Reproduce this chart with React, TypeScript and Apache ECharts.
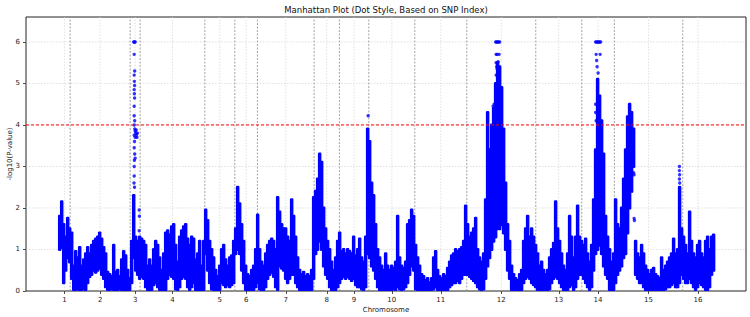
import React, { useEffect, useRef } from "react";
import * as echarts from "echarts";

// ---------- data ----------
const chromosomes = ["1", "2", "3", "4", "5", "6", "7", "8", "9", "10", "11", "12", "13", "14", "15", "16"];
// number of SNPs in each chromosome (SNP index runs continuously)
const chromSizes = [115, 600, 100, 647, 300, 226, 567, 253, 294, 460, 520, 690, 460, 326, 684, 306];
// SNPs are summarised in consecutive bins of this many SNPs: per bin the lowest and highest -log10(P)
const binWidth = 20;
const binLow = [
  1.0, 1.05, 0.2, 0.5, 0.8, 0.7, 0.3, 0.0, 0.0, 0.05, 0.0, 0.0, 0.05, 0.0, 0.2, 0.35, 0.4, 0.5, 0.45, 0.5,
  0.55, 0.4, 0.3, 0.1, 0.0, 0.0, 0.05, 0.0, 0.0, 0.0, 0.05, 0.0, 0.0, 0.0, 0.0, 0.0, 0.2, 0.8, 0.5, 0.4,
  0.3, 0.35, 0.3, 0.1, 0.0, 0.0, 0.0, 0.15, 0.2, 0.1, 0.0, 0.0, 0.0, 0.0, 0.3, 0.4, 0.35, 0.3, 0.05, 0.0,
  0.1, 0.3, 0.35, 0.3, 0.1, 0.0, 0.1, 0.2, 0.0, 0.0, 0.0, 0.0, 0.0, 0.9, 0.5, 0.2, 0.05, 0.0, 0.0, 0.0,
  0.0, 0.2, 0.15, 0.1, 0.15, 0.1, 0.15, 0.2, 0.9, 1.0, 0.9, 0.5, 0.2, 0.0, 0.0, 0.0, 0.0, 0.0, 0.1, 0.2,
  0.05, 0.0, 0.0, 0.1, 0.3, 0.4, 0.45, 0.35, 0.1, 0.0, 0.6, 0.55, 0.5, 0.3, 0.2, 0.3, 0.4, 0.4, 0.2, 0.1,
  0.0, 0.0, 0.0, 0.0, 0.0, 0.0, 0.0, 0.3, 0.9, 1.0, 1.2, 1.0, 0.6, 0.4, 0.3, 0.1, 0.0, 0.0, 0.0, 0.1,
  0.2, 0.3, 0.35, 0.3, 0.35, 0.3, 0.25, 0.3, 0.15, 0.1, 0.1, 0.05, 0.0, 0.1, 0.9, 0.8, 0.6, 0.5, 0.3, 0.1,
  0.0, 0.0, 0.0, 0.0, 0.0, 0.0, 0.0, 0.05, 0.0, 0.1, 0.05, 0.0, 0.05, 0.1, 0.2, 0.4, 0.6, 0.5, 0.05, 0.0,
  0.0, 0.0, 0.0, 0.0, 0.0, 0.0, 0.0, 0.05, 0.1, 0.0, 0.0, 0.0, 0.0, 0.0, 0.0, 0.1, 0.15, 0.2, 0.2, 0.25,
  0.2, 0.3, 0.4, 0.4, 0.4, 0.35, 0.3, 0.25, 0.2, 0.1, 0.05, 0.0, 0.05, 0.3, 0.6, 0.8, 1.0, 1.2, 1.3, 1.5,
  1.5, 1.6, 1.4, 1.0, 0.5, 0.3, 0.0, 0.0, 0.0, 0.0, 0.0, 0.0, 0.2, 0.3, 0.35, 0.3, 0.2, 0.15, 0.1, 0.0,
  0.0, 0.0, 0.0, 0.0, 0.0, 0.05, 0.2, 0.3, 0.35, 0.3, 0.2, 0.1, 0.0, 0.0, 0.0, 0.1, 0.15, 0.0, 0.1, 0.3,
  0.4, 0.4, 0.3, 0.2, 0.1, 0.0, 0.1, 0.5, 0.9, 1.0, 1.1, 0.9, 0.6, 0.4, 0.3, 0.0, 0.0, 0.0, 0.2, 0.4,
  0.5, 0.6, 0.8, 0.9, 1.4, 2.0, 2.4, 3.0, 0.4, 0.3, 0.2, 0.2, 0.1, 0.0, 0.0, 0.0, 0.0, 0.0, 0.0, 0.0,
  0.0, 0.0, 0.0, 0.05, 0.1, 0.1, 0.15, 0.2, 0.1, 0.1, 0.2, 0.4, 0.3, 0.2, 0.2, 0.3, 0.2, 0.1, 0.0, 0.1,
  0.2, 0.15, 0.1, 0.0, 0.0, 0.1, 0.4, 0.5,
];
const binHigh = [
  1.8, 2.15, 1.6, 1.3, 1.75, 1.5, 1.4, 0.6, 0.95, 0.8, 1.05, 0.6, 0.75, 0.9, 1.05, 0.9, 1.1, 1.2, 1.25, 1.3,
  1.4, 1.25, 1.05, 0.9, 0.45, 0.4, 0.35, 1.1, 0.45, 0.5, 0.35, 0.75, 0.95, 0.85, 0.5, 0.3, 1.2, 2.3, 1.3, 1.2,
  1.3, 1.25, 1.2, 1.1, 0.6, 0.75, 0.6, 1.0, 1.2, 1.1, 0.8, 0.5, 0.9, 1.4, 1.45, 1.35, 1.55, 1.6, 1.1, 0.7,
  1.3, 1.45, 1.55, 1.6, 1.25, 1.1, 1.3, 1.25, 0.75, 0.9, 1.2, 0.6, 1.2, 1.95, 1.7, 1.2, 1.0, 0.8, 0.5, 0.35,
  0.6, 1.0, 1.1, 0.75, 0.6, 0.8, 0.85, 1.2, 1.5, 2.5, 2.1, 1.6, 1.2, 0.6, 0.4, 0.35, 0.5, 0.6, 1.0, 1.83,
  1.0, 0.7, 0.6, 0.9, 1.1, 1.2, 1.25, 1.2, 1.0, 2.25, 1.9, 1.6, 1.5, 1.5, 1.3, 1.2, 2.2, 1.8, 1.3, 0.8,
  0.5, 0.4, 0.45, 0.35, 0.4, 0.35, 0.5, 2.25, 2.4, 2.7, 3.3, 3.1, 2.0, 1.5, 1.2, 1.0, 0.7, 0.5, 0.8, 1.2,
  1.4, 0.95, 1.0, 0.9, 1.0, 0.95, 0.9, 1.3, 0.85, 1.0, 1.25, 0.8, 0.7, 1.3, 3.9, 3.6, 2.6, 2.3, 1.6, 1.0,
  0.8, 0.6, 0.5, 0.9, 0.6, 0.5, 0.6, 0.55, 0.7, 1.8, 0.8, 0.6, 0.55, 0.7, 1.6, 1.7, 1.95, 1.8, 1.1, 0.8,
  0.6, 0.4, 0.35, 0.25, 0.3, 0.2, 0.3, 0.8, 0.95, 0.5, 0.35, 0.3, 0.4, 0.35, 0.55, 0.7, 0.85, 0.9, 1.0, 0.95,
  1.0, 1.05, 1.2, 2.05, 1.6, 1.3, 1.4, 1.5, 1.75, 1.0, 0.8, 0.7, 0.9, 2.2, 4.3, 3.4, 4.0, 4.4, 5.0, 5.5,
  5.4, 4.9, 3.9, 2.6, 1.6, 1.2, 0.6, 0.4, 0.3, 0.25, 0.4, 0.5, 1.2, 1.5, 1.8, 1.3, 1.5, 1.3, 1.1, 0.9,
  0.6, 0.7, 0.5, 0.4, 0.5, 0.8, 1.0, 1.15, 2.15, 1.5, 1.2, 0.9, 0.6, 0.5, 0.9, 1.8, 1.3, 0.8, 1.3, 2.05,
  1.3, 1.2, 1.1, 1.25, 0.9, 0.7, 1.1, 2.2, 3.4, 5.1, 4.7, 4.1, 3.3, 1.8, 1.3, 1.0, 0.7, 0.9, 2.2, 1.6,
  1.5, 2.0, 2.7, 3.4, 4.2, 4.5, 4.3, 3.9, 1.2, 0.9, 0.8, 1.1, 0.9, 0.6, 0.5, 0.4, 0.5, 0.55, 0.4, 0.35,
  0.3, 0.8, 0.5, 0.6, 0.7, 0.8, 0.9, 1.25, 0.9, 1.0, 2.5, 1.5, 1.3, 1.1, 0.9, 1.9, 1.2, 0.9, 0.8, 1.1,
  1.2, 0.9, 0.8, 1.2, 1.3, 1.0, 1.3, 1.35,
];
// isolated SNPs standing above the bins (SNP index, -log10 P)
const peakSnpIndex = [
  750, 758, 765, 755, 760, 755, 757, 759, 755, 757, 759, 755, 755, 760, 755, 761, 765, 771, 777, 783,
  787, 755, 765, 775, 758, 755, 760, 757, 765, 755, 755, 753, 758, 805, 807, 805,
  3095,
  4370, 4380, 4390, 4400, 4410, 4375, 4385, 4405, 4375, 4395, 4380, 4385, 4375, 4390, 4405, 4355, 4345,
  5370, 5380, 5390, 5400, 5410, 5420, 5375, 5415, 5380, 5385, 5395, 5370, 5370, 5370, 5370, 5375,
  5750, 5755, 5755, 5758,
  6208, 6208, 6210, 6208, 6211,
];
const peakValue = [
  6.0, 6.0, 6.0, 5.7, 5.3, 5.2, 5.05, 4.95, 4.85, 4.75, 4.65, 4.45, 4.22, 4.1, 4.0, 3.9, 3.85, 3.8, 3.75, 3.7,
  3.8, 3.75, 3.7, 3.88, 3.6, 3.45, 3.3, 3.15, 3.2, 3.0, 2.77, 2.6, 2.5, 1.95, 1.8, 1.45,
  4.22,
  6.0, 6.0, 6.0, 6.0, 6.0, 5.7, 5.7, 5.7, 5.5, 5.52, 5.4, 5.35, 5.2, 5.15, 5.1, 4.5, 4.45,
  6.0, 6.0, 6.0, 6.0, 6.0, 6.0, 5.7, 5.7, 5.55, 5.4, 5.25, 4.5, 4.3, 3.2, 3.0, 4.1,
  2.85, 2.8, 1.75, 1.7,
  3.0, 2.9, 2.8, 2.7, 2.6,
];
const threshold = 4;
const yTicks = [0, 1, 2, 3, 4, 5, 6];
const yMax = 6.6;
const titleText = "Manhattan Plot (Dot Style, Based on SNP Index)";
const xName = "Chromosome";
const yName = "-log10(P-value)";

// ---------- derived ----------
const chromStarts: number[] = [];
chromSizes.reduce((acc, s) => {
  chromStarts.push(acc);
  return acc + s;
}, 0);
const totalSnps = chromSizes.reduce((a, b) => a + b, 0);
const chromCenters = chromSizes.map((s, i) => chromStarts[i] + (s - 1) / 2);
const chromBoundaries = chromStarts.slice(1).map((s) => s - 0.5);
const xPad = (totalSnps - 1) * 0.05;
const xMin = Math.round(-xPad);
const xMax = Math.round(totalSnps - 1 + xPad);

const FONT = "DejaVu Sans";
const BLUE = "#0000ff";

function ruleLine(points: number[][], z: number, color: string, width: number, dash: number[]) {
  return {
    type: "line",
    z,
    silent: true,
    symbol: "none",
    showSymbol: false,
    color,
    data: points,
    lineStyle: { color, width, type: dash, opacity: 1 },
  };
}

export default function App() {
  const ref = useRef<HTMLDivElement>(null);
  useEffect(() => {
    if (!ref.current) return;
    document.body.style.margin = "0";
    const chart = echarts.init(ref.current, null, { renderer: "svg" });
    const binData = binHigh.map((hi, k) => [k * binWidth + binWidth / 2, binLow[k], hi]);
    const peakData = peakSnpIndex.map((x, i) => [x, peakValue[i]]);
    const gridV = chromCenters.map((c) => ruleLine([[c, 0], [c, yMax]], 0, "#d4d4d4", 0.7, [1.5, 1.5]));
    const gridH = yTicks.slice(1).map((v) => ruleLine([[xMin, v], [xMax, v]], 0, "#d4d4d4", 0.7, [1.5, 1.5]));
    const bounds = chromBoundaries.map((b) => ruleLine([[b, 0], [b, yMax]], 1, "#8c8c8c", 0.8, [2, 1.5]));
    chart.setOption({
      animation: false,
      backgroundColor: "#ffffff",
      grid: {
        left: 26,
        right: 4,
        top: 17,
        bottom: 26,
        show: true,
        borderColor: "#222",
        borderWidth: 1,
        backgroundColor: "transparent",
      },
      xAxis: {
        type: "value",
        min: xMin,
        max: xMax,
        axisLine: { show: false, onZero: false },
        splitLine: { show: false },
        axisTick: { show: true, customValues: chromCenters, length: 3, lineStyle: { color: "#222", width: 0.8 } },
        axisLabel: {
          customValues: chromCenters,
          margin: 5,
          color: "#222",
          fontSize: 7,
          fontFamily: FONT,
          formatter: (v: number) => {
            const i = chromCenters.findIndex((c) => Math.abs(c - v) < 0.01);
            return i >= 0 ? chromosomes[i] : "";
          },
        },
      },
      yAxis: {
        type: "value",
        min: 0,
        max: yMax,
        interval: 1,
        axisLine: { show: false, onZero: false },
        splitLine: { show: false },
        axisTick: { show: true, customValues: yTicks, length: 3, lineStyle: { color: "#222", width: 0.8 } },
        axisLabel: { customValues: yTicks, margin: 6, color: "#222", fontSize: 7, fontFamily: FONT },
      },
      series: [
        ...gridV,
        ...gridH,
        ...bounds,
        {
          type: "custom",
          z: 2,
          silent: true,
          data: binData,
          encode: { x: 0, y: [1, 2] },
          renderItem: (params: any, api: any) => {
            const x = api.value(0);
            const lo = api.value(1);
            const hi = api.value(2);
            const p0 = api.coord([x - binWidth / 2, hi]);
            const p1 = api.coord([x + binWidth / 2, lo]);
            const base = api.coord([x, 0])[1];
            const r = 1.5;
            const top = p0[1] - r;
            const bottom = Math.min(p1[1] + r, base);
            return {
              type: "rect",
              shape: { x: p0[0] - r * 0.5, y: top, width: p1[0] - p0[0] + r, height: bottom - top, r: 1.2 },
              style: { fill: BLUE },
            };
          },
        },
        {
          type: "scatter",
          z: 3,
          silent: true,
          symbol: "circle",
          symbolSize: 3.4,
          itemStyle: { color: BLUE },
          data: peakData,
        },
        ruleLine([[xMin, threshold], [xMax, threshold]], 5, "#ff0000", 1, [3, 2]),
      ],
      graphic: [
        {
          type: "text",
          x: 386,
          y: 10,
          style: { text: titleText, align: "center", verticalAlign: "middle", fontSize: 8.5, fontFamily: FONT, fill: "#111" },
        },
        {
          type: "text",
          x: 386,
          y: 310,
          style: { text: xName, align: "center", verticalAlign: "middle", fontSize: 7, fontFamily: FONT, fill: "#222" },
        },
        {
          type: "text",
          x: 10,
          y: 154,
          rotation: Math.PI / 2,
          style: { text: yName, align: "center", verticalAlign: "middle", fontSize: 7, fontFamily: FONT, fill: "#222" },
        },
      ],
    });
    return () => chart.dispose();
  }, []);
  return <div ref={ref} style={{ position: "absolute", left: 0, top: 0, width: 750, height: 317 }} />;
}
